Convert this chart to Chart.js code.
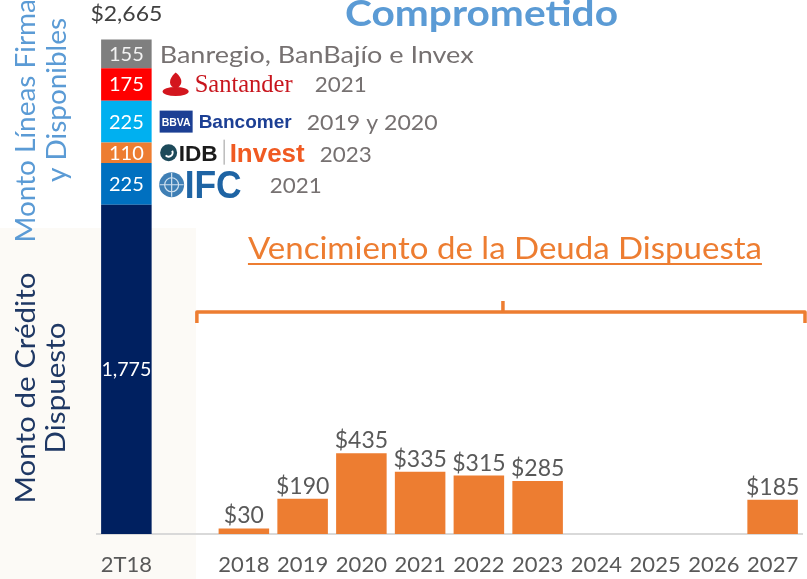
<!DOCTYPE html>
<html><head><meta charset="utf-8">
<script src="https://cdn.jsdelivr.net/npm/chart.js@4/dist/chart.umd.min.js"></script>
<style>html,body{margin:0;padding:0;background:#fff}#wrap{width:807px;height:579px;position:relative}</style>
</head><body><div id="wrap"><canvas id="c" width="807" height="579"></canvas></div>
<script>
// ---- data ----
const categories = ['2T18','','2018','2019','2020','2021','2022','2023','2024','2025','2026','2027'];
const creditoDispuesto = 1775;
const lineasDisponibles = [225,110,225,175,155];
const lineasBancos = ['IFC','IDB Invest','BBVA Bancomer','Santander','Banregio, BanBajío e Invex'];
const lineasVencimiento = ['2021','2023','2019 y 2020','2021',''];
const totalComprometido = 2665;
const vencimientoDeuda = [null,null,30,190,435,335,315,285,null,null,null,185];

// ---- styles ----
const navy = '#002060';
const segColors = ['#0070c0','#ed7d31','#00b0f0','#ff0000','#7f7f7f'];
const orange = '#ed7d31';
const grayTxt = '#767171';
const FONT = 'Lato, "DejaVu Sans", sans-serif';

function fmt(v){return v.toLocaleString('en-US');}

function drawFit(ctx, text, x, y, font, color, width, align, rot){
  ctx.save();
  ctx.font = font; ctx.fillStyle = color; ctx.textBaseline = 'alphabetic';
  const w = ctx.measureText(text).width;
  const sx = width ? width / w : 1;
  ctx.translate(x, y);
  if (rot) ctx.rotate(rot);
  ctx.scale(sx, 1);
  ctx.textAlign = align || 'left';
  ctx.fillText(text, 0, 0);
  ctx.restore();
}

const mk = (v) => categories.map((c,i) => i === 0 ? v : null);
const common = {barPercentage:0.86, categoryPercentage:1, borderWidth:0, stack:'s'};
const datasets = [Object.assign({label:'Monto de Crédito Dispuesto', data:mk(creditoDispuesto), backgroundColor:navy}, common)];
lineasDisponibles.forEach((v,k) => datasets.push(Object.assign({label:lineasBancos[k], data:mk(v), backgroundColor:segColors[k]}, common)));
datasets.push(Object.assign({label:'Vencimiento de la Deuda Dispuesta', data:vencimientoDeuda, backgroundColor:orange}, common));

const deco = {
  id:'deco',
  beforeDraw(chart){
    const ctx = chart.ctx;
    ctx.save();
    ctx.fillStyle = '#ffffff'; ctx.fillRect(0,0,chart.width,chart.height);
    ctx.fillStyle = '#fcfaf6'; ctx.fillRect(0,228,196,chart.height-228);
    ctx.restore();
  },
  afterDatasetsDraw(chart){
    const ctx = chart.ctx;
    const xs = chart.scales.x, ca = chart.chartArea;
    // orange data labels
    const mo = chart.getDatasetMeta(datasets.length-1);
    vencimientoDeuda.forEach((v,i) => {
      if (v == null) return;
      const el = mo.data[i];
      drawFit(ctx, '$' + fmt(v), el.x, el.y - 5, '23px ' + FONT, '#595959', 0, 'center');
    });
    // stacked labels
    const centers = [];
    for (let d = 0; d < datasets.length-1; d++){
      const el = chart.getDatasetMeta(d).data[0];
      const cy = (el.y + el.base)/2;
      centers.push(cy);
      const val = datasets[d].data[0];
      drawFit(ctx, fmt(val), el.x, cy + 7, '20px ' + FONT, d===5 ? '#f2f2f2' : '#ffffff', d===0?50:0, 'center');
    }
    const topEl = chart.getDatasetMeta(datasets.length-2).data[0];
    drawFit(ctx, '$' + fmt(totalComprometido), topEl.x, topEl.y - 18, '22px ' + FONT, '#404040', 72, 'center');

    const bx = topEl.x + topEl.width/2; // right edge of stacked bar
    const c = centers.slice(1); // IFC, IDB, BBVA, Santander, Banregio
    // Banregio
    drawFit(ctx, lineasBancos[4], bx + 8, c[4] + 9, '24px ' + FONT, grayTxt, 314, 'left');
    // Santander logo
    ctx.save();
    ctx.fillStyle = '#d3161e';
    ctx.beginPath(); ctx.ellipse(bx + 24, c[3] + 7, 13, 4.5, 0, 0, Math.PI*2); ctx.fill();
    ctx.beginPath();
    ctx.moveTo(bx + 24, c[3] - 12);
    ctx.bezierCurveTo(bx + 33, c[3] - 5, bx + 30, c[3] + 2, bx + 24, c[3] + 4);
    ctx.bezierCurveTo(bx + 17, c[3] + 2, bx + 16, c[3] - 5, bx + 24, c[3] - 12);
    ctx.fill();
    ctx.restore();
    drawFit(ctx, 'Santander', bx + 43, c[3] + 8, '25px "Liberation Serif", serif', '#c8151d', 98, 'left');
    drawFit(ctx, lineasVencimiento[3], bx + 163, c[3] + 8, '22px ' + FONT, grayTxt, 52, 'left');
    // BBVA Bancomer
    ctx.save(); ctx.fillStyle = '#1c3f94'; ctx.fillRect(bx + 8, c[2] - 11, 33, 22); ctx.restore();
    drawFit(ctx, 'BBVA', bx + 24.5, c[2] + 4, 'bold 11px "Liberation Sans", sans-serif', '#ffffff', 29, 'center');
    drawFit(ctx, 'Bancomer', bx + 47, c[2] + 6, 'bold 19px "Liberation Sans", sans-serif', '#1c3f94', 93, 'left');
    drawFit(ctx, lineasVencimiento[2], bx + 155, c[2] + 8, '22px ' + FONT, grayTxt, 131, 'left');
    // IDB Invest
    ctx.save();
    ctx.fillStyle = '#1d4a5a';
    ctx.beginPath(); ctx.arc(bx + 17, c[1], 8.5, 0, Math.PI*2); ctx.fill();
    ctx.strokeStyle = '#ffffff'; ctx.lineWidth = 2;
    ctx.beginPath(); ctx.arc(bx + 17, c[1], 4, -0.5, 2.4); ctx.stroke();
    ctx.strokeStyle = '#9a9a9a'; ctx.lineWidth = 1;
    ctx.beginPath(); ctx.moveTo(bx + 72.5, c[1] - 13); ctx.lineTo(bx + 72.5, c[1] + 12); ctx.stroke();
    ctx.restore();
    drawFit(ctx, 'IDB', bx + 27, c[1] + 8, 'bold 22px "Liberation Sans", sans-serif', '#1b1b1b', 39, 'left');
    drawFit(ctx, 'Invest', bx + 78, c[1] + 9, 'bold 26px "Liberation Sans", sans-serif', '#f05a22', 75, 'left');
    drawFit(ctx, lineasVencimiento[1], bx + 168, c[1] + 9, '22px ' + FONT, grayTxt, 52, 'left');
    // IFC
    ctx.save();
    ctx.fillStyle = '#3f7fb5';
    ctx.beginPath(); ctx.arc(bx + 20, c[0] + 1, 12.5, 0, Math.PI*2); ctx.fill();
    ctx.strokeStyle = '#cfe0ee'; ctx.lineWidth = 1.2;
    ctx.beginPath(); ctx.arc(bx + 20, c[0] + 1, 7, 0, Math.PI*2); ctx.stroke();
    ctx.beginPath(); ctx.moveTo(bx + 8, c[0] + 1); ctx.lineTo(bx + 32, c[0] + 1); ctx.moveTo(bx + 20, c[0] - 11); ctx.lineTo(bx + 20, c[0] + 13); ctx.stroke();
    ctx.restore();
    drawFit(ctx, 'IFC', bx + 33, c[0] + 14, 'bold 38px "Liberation Sans", sans-serif', '#1e64a4', 57, 'left');
    drawFit(ctx, lineasVencimiento[0], bx + 118, c[0] + 9, '22px ' + FONT, grayTxt, 52, 'left');

    // Title
    drawFit(ctx, 'Comprometido', 345, 26, 'bold 37px ' + FONT, '#5b9bd5', 273, 'left');

    // Rotated axis labels
    const R = -Math.PI/2;
    ctx.save(); ctx.font = '26px ' + FONT;
    const s1 = 164 / ctx.measureText('y Disponibles').width;
    const w1 = ctx.measureText('Monto Líneas Firmadas').width * s1;
    const s2 = 231 / ctx.measureText('Monto de Crédito').width;
    const w2 = ctx.measureText('Dispuesto').width * s2;
    ctx.restore();
    drawFit(ctx, 'Monto Líneas Firmadas', 35, 100, '26px ' + FONT, '#5b9bd5', w1, 'center', R);
    drawFit(ctx, 'y Disponibles', 66, 100, '26px ' + FONT, '#5b9bd5', 164, 'center', R);
    drawFit(ctx, 'Monto de Crédito', 35, 388, '26px ' + FONT, '#1f3864', 231, 'center', R);
    drawFit(ctx, 'Dispuesto', 65, 388, '26px ' + FONT, '#1f3864', w2, 'center', R);

    // Vencimiento header + bracket
    const step = xs.getPixelForValue(3) - xs.getPixelForValue(2);
    const bl = xs.getPixelForValue(2) - step*0.8;
    const br = ca.right + 3;
    const mid = (bl + br)/2;
    drawFit(ctx, 'Vencimiento de la Deuda Dispuesta', mid + 4, 259, '30px ' + FONT, orange, 514, 'center');
    ctx.save();
    ctx.fillStyle = orange;
    ctx.fillRect(mid + 4 - 257, 263, 514, 2);
    ctx.strokeStyle = orange; ctx.lineWidth = 3.5; ctx.lineJoin = 'round';
    ctx.beginPath();
    ctx.moveTo(bl, 323); ctx.lineTo(bl, 312); ctx.lineTo(br, 312); ctx.lineTo(br, 323);
    ctx.moveTo(mid + 2, 312); ctx.lineTo(mid + 2, 301);
    ctx.stroke();
    ctx.restore();
  }
};

new Chart(document.getElementById('c'), {
  type:'bar',
  data:{labels:categories, datasets},
  options:{
    responsive:false, animation:false, devicePixelRatio:1,
    layout:{padding:{left:97, right:5, top:33, bottom:0}},
    plugins:{legend:{display:false}, tooltip:{enabled:false}},
    scales:{
      x:{stacked:true, grid:{display:false, drawTicks:false}, border:{display:true, color:'#d9d9d9', width:2},
         ticks:{color:'#595959', font:{family:'Lato', size:22}, padding:18, maxRotation:0, autoSkip:false},
         afterFit(s){ s.height = 45; s.paddingLeft = 0; s.paddingRight = 0; s.paddingTop = 0; s.paddingBottom = 0; }},
      y:{stacked:true, display:false, min:0, max:2700}
    }
  },
  plugins:[deco]
});
</script></body></html>
